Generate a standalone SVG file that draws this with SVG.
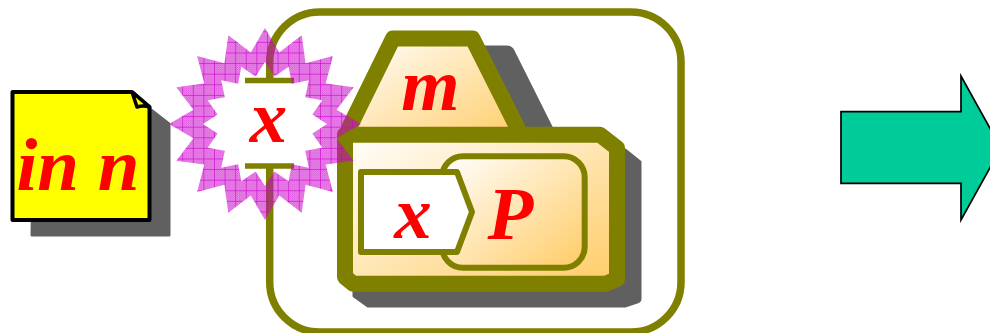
<svg xmlns="http://www.w3.org/2000/svg" width="990" height="333" viewBox="0 0 990 333">
<style>
.t{font-family:"Liberation Serif","Times New Roman",serif;font-weight:bold;font-style:italic;font-size:75px;fill:#f00;text-anchor:middle}
.o{stroke:#808000;stroke-linejoin:round}
.s{fill:#606060;stroke:#606060;stroke-width:3;stroke-linejoin:round}
</style>
<defs>
<linearGradient id="g" x1="0" y1="0" x2="1" y2="1"><stop offset="0" stop-color="#fff"/><stop offset="1" stop-color="#fc6"/></linearGradient>
<pattern id="dither" width="2" height="2" patternUnits="userSpaceOnUse">
<rect width="2" height="2" fill="#cc00cc" fill-opacity=".36"/>
<rect width="1" height="1" fill="#cc00cc" fill-opacity=".54"/>
<rect x="1" y="1" width="1" height="1" fill="#cc00cc" fill-opacity=".54"/>
</pattern>
<pattern id="fine" width="10.6" height="10.6" patternUnits="userSpaceOnUse" x="267" y="55.7">
<rect width="10.6" height="10.6" fill="url(#dither)"/>
<rect width="10.6" height="1" fill="#cc00cc" fill-opacity=".6"/>
<rect width="1" height="10.6" fill="#cc00cc" fill-opacity=".6"/>
</pattern>
</defs>
<rect width="990" height="333" fill="#fff"/>
<g id="node-in-n">
<path class="s" d="M34,110H151L169,124V235H32Z"/>
<path d="M12.500,92H132L149.500,107V220H12.500Z" fill="#ff0" stroke="#000" stroke-width="4" stroke-linejoin="round"/>
<path d="M132,92L137,107Q143,105 149.500,107Z" fill="#ff0" stroke="#000" stroke-width="3.500" stroke-linejoin="round"/>
<text class="t" x="78" y="190">in n</text>
</g>
<g id="node-process">
<rect class="o" x="269.700" y="12" width="411.300" height="320" rx="50" fill="#fff" stroke-width="7.500"/>
<g id="node-m">
<path class="s" d="M480,47H507Q511,47 513,51L553,131H480Z"/>
<path class="o" d="M349.500,127L393,38.500H472.500L517,127V143H349.500Z" fill="url(#g)" stroke-width="16"/>
<text class="t" x="430.500" y="110">m</text>
</g>
<g id="node-P">
<path class="s" d="M354,150H625L640,162V299Q640,301 637,302L625,306H368L354,296Z" stroke-width="2"/>
<path class="o" d="M345,134.700H600L617,148V279L606,283.700H353L345,277Z" fill="url(#g)" stroke-width="16"/>
<rect class="o" x="442" y="156.300" width="142.700" height="111.400" rx="21" fill="url(#g)" stroke-width="6"/>
<text class="t" x="510.500" y="239">P</text>
</g>
<g id="node-x-inner">
<path class="o" d="M361,172H457L472,212L457,252H361Z" fill="#fff" stroke-width="6"/>
<text class="t" x="413" y="238">x</text>
</g>
</g>
<g id="node-x-port">
<rect x="245" y="80" width="49" height="86" fill="#fff"/>
<path d="M245,80.500H294M245,166H294" stroke="#808000" stroke-width="5.500" fill="none"/>
<path transform="translate(265 124)" fill="url(#fine)" fill-rule="evenodd" d="M0,-96L14.200,-71.600 36.700,-88.700 40.600,-60.700 67.900,-67.900 60.700,-40.600 88.700,-36.700 71.600,-14.200 96,0 71.600,14.200 88.700,36.700 60.700,40.600 67.900,67.900 40.600,60.700 36.700,88.700 14.200,71.600 0,96 -14.200,71.600 -36.700,88.700 -40.600,60.700 -67.900,67.900 -60.700,40.600 -88.700,36.700 -71.600,14.200 -96,0 -71.600,-14.200 -88.700,-36.700 -60.700,-40.600 -67.900,-67.900 -40.600,-60.700 -36.700,-88.700 -14.200,-71.600ZM0,-62L9.400,-47.400 23.700,-57.300 26.800,-40.200 43.800,-43.800 40.200,-26.800 57.300,-23.700 47.400,-9.400 62,0 47.400,9.400 57.300,23.700 40.200,26.800 43.800,43.800 26.800,40.200 23.700,57.300 9.400,47.400 0,62 -9.400,47.400 -23.700,57.300 -26.800,40.200 -43.800,43.800 -40.200,26.800 -57.300,23.700 -47.400,9.400 -62,0 -47.400,-9.400 -57.300,-23.700 -40.200,-26.800 -43.800,-43.800 -26.800,-40.200 -23.700,-57.300 -9.400,-47.400Z"/>
<text class="t" x="268.500" y="142">x</text>
</g>
<g id="node-arrow">
<path d="M841,111.700H961V76L1001,148L961,220V183.300H841Z" fill="#0c9" stroke="#000" stroke-width="1.700" stroke-linejoin="miter"/>
</g>
<g id="connectors"/>
</svg>
